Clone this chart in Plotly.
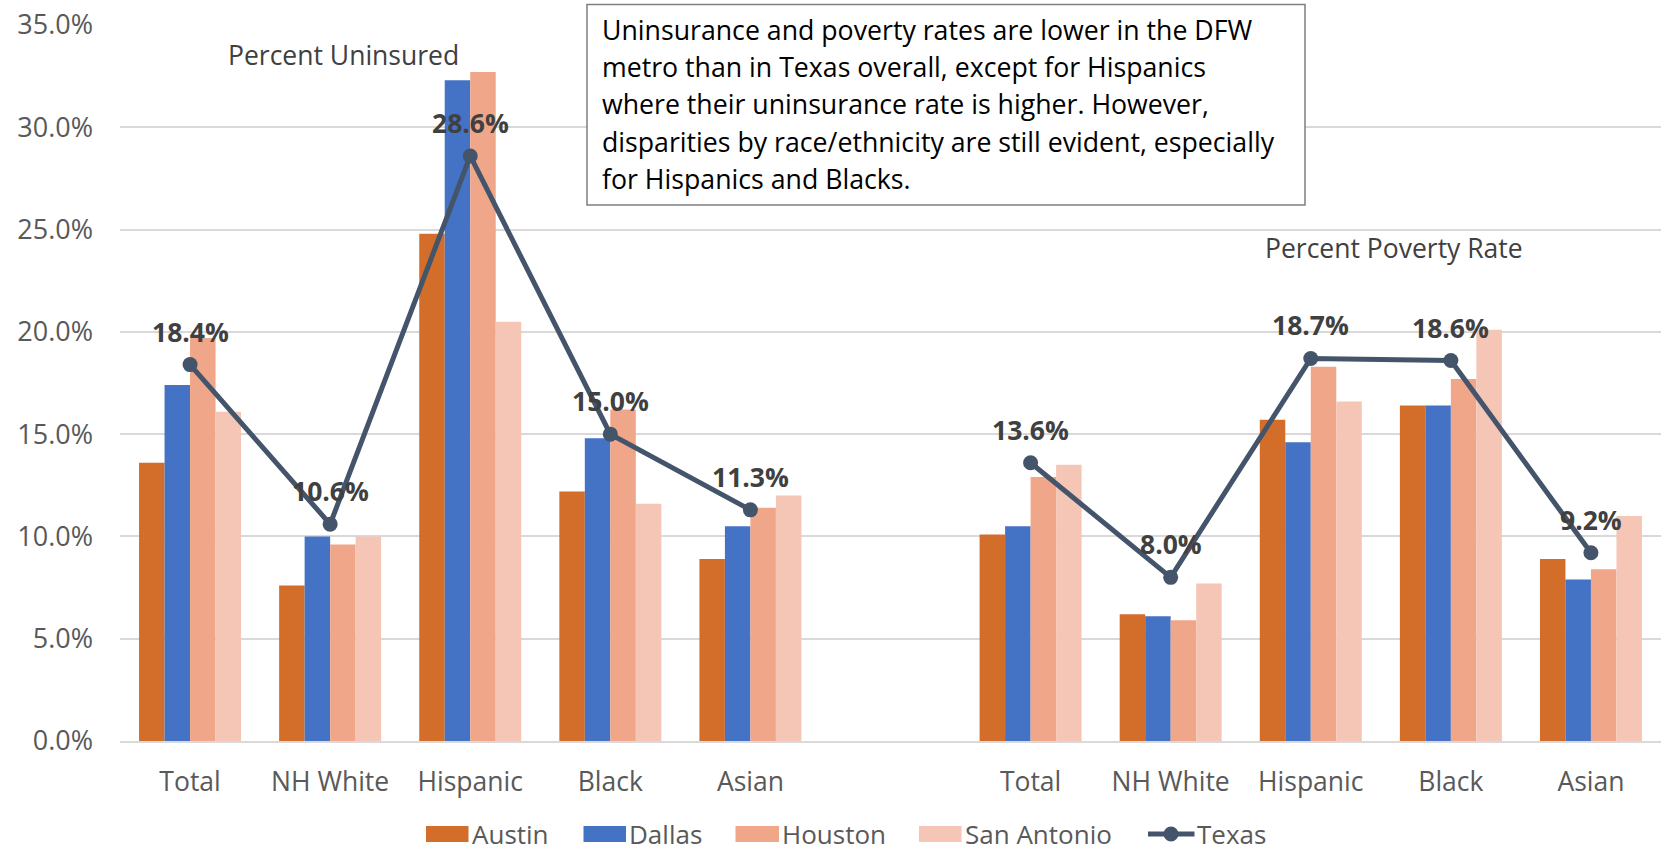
import plotly.graph_objects as go

categories = ["Total", "NH White", "Hispanic", "Black", "Asian", "",
              "Total", "NH White", "Hispanic", "Black", "Asian"]
x_pos = list(range(len(categories)))

austin = [13.6, 7.6, 24.8, 12.2, 8.9, None, 10.1, 6.2, 15.7, 16.4, 8.9]
dallas = [17.4, 10.0, 32.3, 14.8, 10.5, None, 10.5, 6.1, 14.6, 16.4, 7.9]
houston = [19.7, 9.6, 32.7, 16.2, 11.4, None, 12.9, 5.9, 18.3, 17.7, 8.4]
san_antonio = [16.1, 10.0, 20.5, 11.6, 12.0, None, 13.5, 7.7, 16.6, 20.1, 11.0]
texas = [18.4, 10.6, 28.6, 15.0, 11.3, None, 13.6, 8.0, 18.7, 18.6, 9.2]

series = [("Austin", austin, "#D26E2A"),
          ("Dallas", dallas, "#4472C4"),
          ("Houston", houston, "#F0A688"),
          ("San Antonio", san_antonio, "#F5C6B6")]
TEXAS_COLOR = "#44546A"
FONT = "Open Sans"

W, H = 1666, 851
L, R, T, B = 120, 5, 25, 110
PW, PH = W - L - R, H - T - B


def px(x):
    return (x - L) / PW


def py(y):
    return (H - B - y) / PH


fig = go.Figure()
for name, vals, col in series:
    fig.add_trace(go.Bar(x=x_pos, y=vals, name=name, marker_color=col,
                         marker_line_width=0, showlegend=False))

fig.add_trace(go.Scatter(
    x=x_pos, y=texas, name="Texas", mode="lines+markers",
    line=dict(color=TEXAS_COLOR, width=5),
    marker=dict(size=15, color=TEXAS_COLOR),
    connectgaps=False, showlegend=False))

# data labels for Texas
for xi, v in zip(x_pos, texas):
    if v is None:
        continue
    fig.add_annotation(x=xi, y=v, text=f"<b>{v:.1f}%</b>", showarrow=False,
                       yshift=33, xanchor="center", yanchor="middle",
                       font=dict(size=26.5, color="#404040", family=FONT))

fig.update_layout(
    width=W, height=H,
    margin=dict(l=L, r=R, t=T, b=B, autoexpand=False),
    plot_bgcolor="white", paper_bgcolor="white",
    barmode="group", bargap=0.272, bargroupgap=0,
    font=dict(family=FONT, size=26.5, color="#595959"),
    showlegend=False,
    xaxis=dict(tickmode="array", tickvals=x_pos, ticktext=categories,
               range=[-0.5, 10.5], showgrid=False, showline=True,
               linecolor="#D9D9D9", linewidth=2, ticks="",
               ticklabelstandoff=16,
               tickfont=dict(size=26.5, color="#595959")),
    yaxis=dict(range=[0, 35], dtick=5, tickformat=".1f", ticksuffix="%",
               showgrid=True, gridcolor="#D9D9D9", gridwidth=1.5,
               zeroline=False, showline=False, ticklabelstandoff=26,
               tickfont=dict(size=27, color="#595959")),
)

# section titles
fig.add_annotation(text="Percent Uninsured", x=px(343), y=py(55), xref="paper",
                   yref="paper", showarrow=False, xanchor="center", yanchor="middle",
                   font=dict(size=26.5, color="#404040"))
fig.add_annotation(text="Percent Poverty Rate", x=px(1394), y=py(248), xref="paper",
                   yref="paper", showarrow=False, xanchor="center", yanchor="middle",
                   font=dict(size=26.5, color="#404040"))

# text box
box_lines = ["Uninsurance and poverty rates are lower in the DFW",
             "metro than in Texas overall, except for Hispanics",
             "where their uninsurance rate is higher. However,",
             "disparities by race/ethnicity are still evident, especially",
             "for Hispanics and Blacks."]
fig.add_shape(type="rect", xref="paper", yref="paper", x0=px(587), x1=px(1305),
              y0=py(205), y1=py(4.5), line=dict(color="#7F7F7F", width=1.5),
              fillcolor="white", layer="above")
line_y = [30, 67, 104, 141, 178.5]
for txt, ly in zip(box_lines, line_y):
    fig.add_annotation(text=txt, x=px(600), y=py(ly), xref="paper", yref="paper",
                       showarrow=False, xanchor="left", yanchor="middle",
                       align="left", font=dict(size=26.7, color="#000000"))

# custom legend
leg_y = 834
leg_items = [("Austin", "#D26E2A", 426, 468.5, 470),
             ("Dallas", "#4472C4", 583.5, 626, 627),
             ("Houston", "#F0A688", 735.5, 779, 780),
             ("San Antonio", "#F5C6B6", 919, 961.5, 963)]
for name, col, bx0, bx1, tx in leg_items:
    fig.add_shape(type="rect", xref="paper", yref="paper", x0=px(bx0), x1=px(bx1),
                  y0=py(leg_y + 8), y1=py(leg_y - 8), fillcolor=col,
                  line=dict(width=0), layer="above")
    fig.add_annotation(text=name, x=px(tx), y=py(leg_y), xref="paper", yref="paper",
                       showarrow=False, xanchor="left", yanchor="middle",
                       font=dict(size=26, color="#595959"))
fig.add_shape(type="line", xref="paper", yref="paper", x0=px(1148), x1=px(1194.5),
              y0=py(leg_y), y1=py(leg_y), line=dict(color=TEXAS_COLOR, width=5),
              layer="above")
fig.add_shape(type="circle", xref="paper", yref="paper", x0=px(1171 - 7.5),
              x1=px(1171 + 7.5), y0=py(leg_y + 7.5), y1=py(leg_y - 7.5),
              fillcolor=TEXAS_COLOR, line=dict(width=0), layer="above")
fig.add_annotation(text="Texas", x=px(1194.5), y=py(leg_y), xref="paper", yref="paper",
                   showarrow=False, xanchor="left", yanchor="middle",
                   font=dict(size=26, color="#595959"))

fig.write_html("out.html", config={"displayModeBar": False},
               post_script="document.body.style.margin='0px';")
